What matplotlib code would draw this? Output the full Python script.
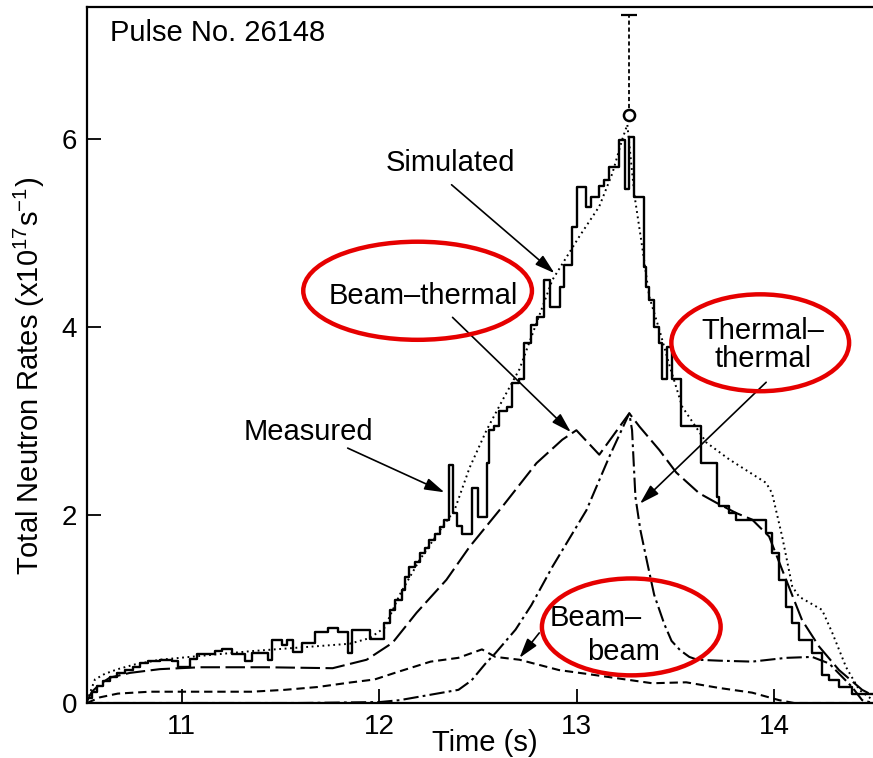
import matplotlib
matplotlib.use('Agg')
import matplotlib.pyplot as plt
from matplotlib.patches import Ellipse

plt.rcParams['font.family'] = 'Liberation Sans'
plt.rcParams['mathtext.fontset'] = 'custom'
plt.rcParams['mathtext.rm'] = 'Liberation Sans'
plt.rcParams['lines.scale_dashes'] = False

# measured total neutron rate, histogram (left bin edges, x10^17 /s)
meas_t = [10.52, 10.545, 10.57, 10.60, 10.636, 10.671, 10.712, 10.752, 10.788, 10.828,
          10.889, 10.949, 10.98, 11.04, 11.076, 11.167, 11.202, 11.253, 11.319, 11.354,
          11.435, 11.455, 11.506, 11.531, 11.561, 11.607, 11.673, 11.738, 11.789, 11.84,
          11.86, 11.951, 12.022, 12.052, 12.082, 12.113, 12.128, 12.153, 12.179, 12.204,
          12.229, 12.254, 12.28, 12.305, 12.33, 12.351, 12.371, 12.396, 12.421, 12.472,
          12.502, 12.543, 12.558, 12.583, 12.608, 12.649, 12.674, 12.71, 12.735, 12.77,
          12.80, 12.836, 12.866, 12.917, 12.937, 12.978, 13.003, 13.049, 13.074, 13.114,
          13.14, 13.165, 13.215, 13.246, 13.266, 13.292, 13.342, 13.353, 13.367, 13.393,
          13.418, 13.433, 13.458, 13.484, 13.529, 13.63, 13.711, 13.721, 13.772, 13.807,
          13.959, 13.989, 14.025, 14.06, 14.091, 14.126, 14.192, 14.242, 14.278, 14.328,
          14.394, 14.5]
meas_v = [0.05, 0.12, 0.18, 0.23, 0.28, 0.32, 0.35, 0.38, 0.42, 0.45,
          0.46, 0.45, 0.38, 0.47, 0.52, 0.55, 0.57, 0.52, 0.45, 0.53,
          0.46, 0.67, 0.62, 0.67, 0.54, 0.64, 0.75, 0.80, 0.75, 0.53,
          0.78, 0.68, 0.85, 0.99, 1.10, 1.20, 1.34, 1.45, 1.50, 1.60,
          1.65, 1.73, 1.80, 1.87, 1.95, 2.53, 2.02, 1.88, 1.80, 2.29,
          1.98, 2.55, 2.90, 2.94, 3.10, 3.15, 3.40, 3.44, 3.83, 4.02,
          4.10, 4.50, 4.21, 4.42, 4.66, 5.06, 5.49, 5.27, 5.38, 5.50,
          5.56, 5.70, 5.99, 5.46, 6.02, 5.38, 4.64, 4.42, 4.29, 4.00,
          3.83, 3.44, 3.79, 3.44, 2.94, 2.55, 2.19, 2.09, 2.02, 1.95,
          1.81, 1.59, 1.31, 1.02, 0.85, 0.67, 0.53, 0.30, 0.24, 0.17,
          0.10, 0.10]

# peak measurement with upper error
peak_t = 13.266
peak_v = 6.25
peak_err = 1.06

# simulated total
sim_t = [10.52, 10.56, 10.61, 10.676, 10.762, 10.889, 11.091, 11.344, 11.597, 11.85,
         11.951, 12.027, 12.103, 12.204, 12.305, 12.381, 12.457, 12.543, 12.624, 12.71,
         12.877, 13.013, 13.114, 13.18, 13.23, 13.256, 13.292, 13.332, 13.367, 13.418,
         13.468, 13.534, 13.656, 13.772, 13.959, 13.989, 14.04, 14.091, 14.126, 14.242,
         14.293, 14.364, 14.43, 14.5]
sim_v = [0.02, 0.25, 0.31, 0.36, 0.41, 0.46, 0.50, 0.55, 0.59, 0.63,
         0.69, 0.80, 1.15, 1.52, 1.83, 2.05, 2.50, 2.90, 3.22, 3.55,
         4.50, 4.96, 5.28, 5.63, 5.99, 6.15, 5.40, 4.84, 4.32, 3.97,
         3.60, 3.15, 2.77, 2.59, 2.34, 2.23, 1.77, 1.24, 1.13, 0.99,
         0.75, 0.38, 0.14, 0.03]

# beam-thermal component
bt_t = [10.52, 10.545, 10.585, 10.636, 10.737, 10.889, 11.091, 11.43, 11.764, 11.936,
        12.067, 12.189, 12.34, 12.457, 12.624, 12.796, 12.927, 12.998, 13.114, 13.266,
        13.317, 13.418, 13.504, 13.62, 13.706, 13.807, 13.888, 13.974, 14.06, 14.141,
        14.227, 14.328, 14.445, 14.5]
bt_v = [0.02, 0.12, 0.20, 0.27, 0.32, 0.36, 0.38, 0.38, 0.37, 0.46,
        0.64, 0.96, 1.31, 1.66, 2.09, 2.55, 2.80, 2.90, 2.64, 3.08,
        2.94, 2.69, 2.45, 2.23, 2.13, 2.02, 1.95, 1.77, 1.31, 0.88,
        0.60, 0.35, 0.14, 0.08]

# thermal-thermal component
tt_t = [10.52, 11.597, 12.002, 12.103, 12.265, 12.401, 12.467, 12.538, 12.588, 12.69,
        12.77, 12.877, 13.049, 13.165, 13.266, 13.28, 13.297, 13.322, 13.357, 13.392,
        13.443, 13.48, 13.524, 13.57, 13.61, 13.721, 13.888, 14.06, 14.192, 14.278,
        14.394, 14.445, 14.5]
tt_v = [0.0, 0.0, 0.01, 0.03, 0.09, 0.14, 0.24, 0.42, 0.53, 0.78,
        1.04, 1.45, 2.05, 2.62, 3.08, 2.90, 2.19, 1.84, 1.49, 1.15,
        0.84, 0.66, 0.56, 0.49, 0.46, 0.45, 0.44, 0.48, 0.49, 0.42,
        0.17, 0.03, 0.0]

# beam-beam component
bb_t = [10.52, 10.585, 10.676, 10.838, 11.354, 11.521, 11.688, 11.86, 11.976, 12.093,
        12.26, 12.40, 12.52, 12.588, 12.71, 12.91, 13.049, 13.215, 13.382, 13.554,
        13.721, 13.888, 14.025, 14.1, 14.5]
bb_v = [0.0, 0.06, 0.10, 0.12, 0.12, 0.14, 0.17, 0.22, 0.25, 0.33,
        0.44, 0.48, 0.57, 0.49, 0.46, 0.35, 0.31, 0.26, 0.21, 0.22,
        0.16, 0.11, 0.03, 0.0, 0.0]

fig = plt.figure(figsize=(8.73, 7.58), dpi=100)
ax = fig.add_axes([87 / 873, 55 / 758, 786 / 873, 696 / 758])

ax.step(meas_t, meas_v, where='post', color='k', lw=1.7)
ax.plot(sim_t, sim_v, color='k', lw=1.4, dashes=(1.3, 2.6))
ax.plot(bt_t, bt_v, color='k', lw=1.5, dashes=(14, 4))
ax.plot(tt_t, tt_v, color='k', lw=1.5, dashes=(11, 3, 2, 3))
ax.plot(bb_t, bb_v, color='k', lw=1.5, dashes=(6, 3.5))

# error bar on the peak point: dashed stem, top cap, open circle
ax.plot([peak_t, peak_t], [peak_v, peak_v + peak_err], color='k', lw=1.3, dashes=(3, 2))
ax.plot([peak_t], [peak_v + peak_err], marker='_', ms=11, mew=1.6, color='k')
ax.plot([peak_t], [peak_v], marker='o', mfc='white', mec='k', mew=1.8, ms=8, zorder=4)

arrow = dict(arrowstyle='-|>,head_length=0.6,head_width=0.18', color='k', lw=1.2,
             mutation_scale=20, shrinkA=0, shrinkB=0)
fs = 21

ax.text(11.64, 2.88, 'Measured', fontsize=fs, ha='center', va='center')
ax.annotate('', xy=(12.33, 2.24), xytext=(11.84, 2.71), arrowprops=arrow)

ax.text(12.36, 5.74, 'Simulated', fontsize=fs, ha='center', va='center')
ax.annotate('', xy=(12.887, 4.57), xytext=(12.366, 5.51), arrowprops=arrow)

ax.text(12.224, 4.33, 'Beam\u2013thermal', fontsize=fs, ha='center', va='center')
ax.annotate('', xy=(12.97, 2.88), xytext=(12.371, 4.10), arrowprops=arrow)

ax.text(13.944, 3.81, 'Thermal\u2013\nthermal', fontsize=fs, ha='center', va='center',
        linespacing=1.0)
ax.annotate('', xy=(13.32, 2.12), xytext=(13.959, 3.41), arrowprops=arrow)

ax.text(13.094, 0.904, 'Beam\u2013', fontsize=fs, ha='center', va='center')
ax.text(13.236, 0.543, 'beam', fontsize=fs, ha='center', va='center')
ax.annotate('', xy=(12.71, 0.48), xytext=(12.81, 0.745), arrowprops=arrow)

ax.text(0.029, 0.963, 'Pulse No. 26148', transform=ax.transAxes, fontsize=fs,
        ha='left', va='center')

# red highlight rings round the component labels
for cx, cy, w, h in [(12.194, 4.383, 1.158, 1.043),
                     (13.929, 3.83, 0.900, 1.03),
                     (13.276, 0.809, 0.905, 1.03)]:
    ax.add_patch(Ellipse((cx, cy), w, h, fill=False, ec='#e60000', lw=3.2,
                         zorder=6, clip_on=False))

ax.set_xlim(10.52, 14.5)
ax.set_ylim(0, 7.4)
ax.set_xticks([11, 12, 13, 14])
ax.set_yticks([0, 2, 4, 6])
ax.tick_params(direction='in', length=10, width=1.3, labelsize=20)
ax.tick_params(axis='x', pad=8)
ax.tick_params(axis='y', pad=7)
for side in ['left', 'bottom', 'top']:
    ax.spines[side].set_linewidth(1.6)
ax.spines['right'].set_visible(False)

ax.set_xlabel('Time (s)', fontsize=fs, labelpad=0)
ax.xaxis.set_label_coords(0.506, -0.037)
ax.set_ylabel(r'Total Neutron Rates (x10$^{17}$s$^{-1}$)', fontsize=fs)
ax.yaxis.set_label_coords(-0.051, 0.47)

fig.savefig('out.png', dpi=100)
